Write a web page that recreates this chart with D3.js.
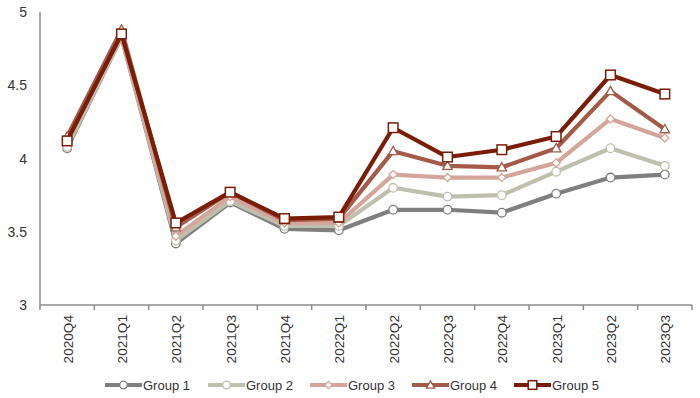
<!DOCTYPE html>
<html><head><meta charset="utf-8">
<script src="https://cdn.jsdelivr.net/npm/d3@7"></script>
<style>body{margin:0;background:#fff}svg{display:block}text{font-family:"Liberation Sans",Arial,sans-serif}</style>
</head><body><svg id="c" width="700" height="398"></svg>
<script>
const categories = ["2020Q4","2021Q1","2021Q2","2021Q3","2021Q4","2022Q1","2022Q2","2022Q3","2022Q4","2023Q1","2023Q2","2023Q3"];
const group1 = [4.07,4.83,3.42,3.70,3.52,3.51,3.65,3.65,3.63,3.76,3.87,3.89];
const group2 = [4.08,4.83,3.44,3.71,3.54,3.54,3.80,3.74,3.75,3.91,4.07,3.95];
const group3 = [4.13,4.84,3.47,3.74,3.56,3.56,3.89,3.87,3.87,3.97,4.27,4.14];
const group4 = [4.15,4.88,3.53,3.77,3.58,3.59,4.05,3.95,3.94,4.07,4.46,4.20];
const group5 = [4.12,4.85,3.56,3.77,3.59,3.60,4.21,4.01,4.06,4.15,4.57,4.44];
const seriesNames = ["Group 1","Group 2","Group 3","Group 4","Group 5"];
const yTicks = [3,3.5,4,4.5,5];

const series = [
  {name:seriesNames[0], values:group1, color:"#7f7f7f", marker:"circle"},
  {name:seriesNames[1], values:group2, color:"#bfbfae", marker:"circle"},
  {name:seriesNames[2], values:group3, color:"#d4a69b", marker:"diamond"},
  {name:seriesNames[3], values:group4, color:"#a45a48", marker:"triangle"},
  {name:seriesNames[4], values:group5, color:"#7a1c06", marker:"square"}
];

const svg = d3.select("#c");
const L=40, R=692, T=12, B=305;
const x = d3.scaleBand().domain(categories).range([L,R]);
const y = d3.scaleLinear().domain([3,5]).range([B,T]);

// y axis
svg.append("line").attr("x1",L).attr("x2",L).attr("y1",T).attr("y2",B).attr("stroke","#8c8c8c").attr("stroke-width",1.5);
svg.selectAll(".yl").data(yTicks).enter().append("text")
  .attr("x",27).attr("y",d=>y(d)+5).attr("text-anchor","end")
  .attr("font-size",14).attr("fill","#333").text(d=>d);
// x axis
svg.append("line").attr("x1",L).attr("x2",R).attr("y1",B).attr("y2",B).attr("stroke","#8c8c8c").attr("stroke-width",1.5);
const bounds = categories.map(c=>x(c)).concat([R]);
svg.selectAll(".xt").data(bounds).enter().append("line")
  .attr("x1",d=>d).attr("x2",d=>d).attr("y1",B).attr("y2",B+5).attr("stroke","#8c8c8c").attr("stroke-width",1.5);
svg.selectAll(".xl").data(categories).enter().append("text")
  .attr("transform",d=>`translate(${x(d)+x.bandwidth()/2+5.5},315) rotate(-90)`)
  .attr("text-anchor","end").attr("font-size",13.6).attr("fill","#333").text(d=>d);

function drawMarker(g, type, color, cx, cy, s){
  if(type==="circle"){
    g.append("circle").attr("cx",cx).attr("cy",cy).attr("r",s).attr("fill","#fff").attr("stroke",color).attr("stroke-width",1.3);
  } else if(type==="diamond"){
    const r=s*0.95;
    g.append("path").attr("d",`M${cx},${cy-r}L${cx+r},${cy}L${cx},${cy+r}L${cx-r},${cy}Z`).attr("fill","#fff").attr("stroke",color).attr("stroke-width",1.3);
  } else if(type==="triangle"){
    const r=s*1.1;
    g.append("path").attr("d",`M${cx},${cy-r}L${cx+r},${cy+r*0.75}L${cx-r},${cy+r*0.75}Z`).attr("fill","#fff").attr("stroke",color).attr("stroke-width",1.3);
  } else {
    const r=s;
    g.append("rect").attr("x",cx-r).attr("y",cy-r).attr("width",2*r).attr("height",2*r).attr("fill","#fff").attr("stroke",color).attr("stroke-width",1.5);
  }
}

const line = d3.line().x((d,i)=>x(categories[i])+x.bandwidth()/2).y(d=>y(d));
series.forEach(s=>{
  const g = svg.append("g");
  g.append("path").attr("d",line(s.values)).attr("fill","none").attr("stroke",s.color).attr("stroke-width",4.2).attr("stroke-linejoin","round");
  s.values.forEach((v,i)=>drawMarker(g,s.marker,s.color,x(categories[i])+x.bandwidth()/2,y(v),s.marker==="square"?4.8:(s.marker==="circle"?4.3:4.3)));
});

// legend
const legX = [105,208,310,412,514];
series.forEach((s,i)=>{
  const g = svg.append("g");
  const lx = legX[i], ly = 385;
  g.append("line").attr("x1",lx).attr("x2",lx+37).attr("y1",ly).attr("y2",ly).attr("stroke",s.color).attr("stroke-width",4);
  drawMarker(g,s.marker,s.color,lx+18.5,ly,s.marker==="square"?4.3:3.8);
  g.append("text").attr("x",lx+38).attr("y",ly+5).attr("font-size",13).attr("fill","#333").text(s.name);
});
</script></body></html>
